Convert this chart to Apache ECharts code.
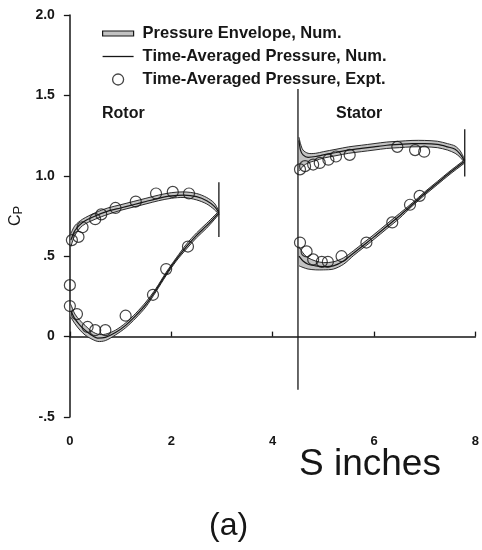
<!DOCTYPE html>
<html>
<head>
<meta charset="utf-8">
<script src="https://cdn.jsdelivr.net/npm/echarts@6/dist/echarts.min.js"></script>
<style>
  html, body { margin: 0; padding: 0; background: #fff; }
  #chart { width: 482px; height: 550px; }
</style>
</head>
<body>
<div id="chart"></div>
<script>
// Axis ticks
const xTicks = [0, 2, 4, 6, 8];
const yTickValues = [-0.5, 0, 0.5, 1.0, 1.5, 2.0];
const yTickText = ['-.5', '0', '.5', '1.0', '1.5', '2.0'];

// Rotor, pressure surface (upper branch): S, time-averaged Cp, envelope max/min
const rotorUpperS    = [0.02, 0.1, 0.25, 0.5, 0.75, 1.0, 1.25, 1.5, 1.75, 2.0, 2.25, 2.5, 2.7, 2.85, 2.94];
const rotorUpperMean = [0.60, 0.66, 0.71, 0.75, 0.78, 0.80, 0.82, 0.84, 0.86, 0.875, 0.88, 0.87, 0.845, 0.81, 0.77];
const rotorUpperHi   = [0.64, 0.69, 0.73, 0.77, 0.80, 0.82, 0.84, 0.86, 0.88, 0.895, 0.90, 0.89, 0.865, 0.83, 0.78];
const rotorUpperLo   = [0.56, 0.63, 0.69, 0.73, 0.76, 0.785, 0.805, 0.825, 0.845, 0.86, 0.865, 0.85, 0.825, 0.79, 0.76];

// Rotor, suction surface (lower branch)
const rotorLowerS    = [0.02, 0.1, 0.2, 0.3, 0.4, 0.55, 0.7, 0.9, 1.1, 1.3, 1.5, 1.7, 1.9, 2.1, 2.3, 2.5, 2.7, 2.94];
const rotorLowerMean = [0.16, 0.11, 0.07, 0.04, 0.015, -0.01, -0.005, 0.025, 0.07, 0.13, 0.20, 0.29, 0.39, 0.48, 0.56, 0.63, 0.69, 0.77];
const rotorLowerHi   = [0.20, 0.14, 0.10, 0.07, 0.04, 0.015, 0.015, 0.04, 0.085, 0.145, 0.215, 0.30, 0.40, 0.49, 0.575, 0.645, 0.705, 0.78];
const rotorLowerLo   = [0.12, 0.08, 0.04, 0.01, -0.01, -0.03, -0.025, 0.01, 0.055, 0.115, 0.185, 0.28, 0.38, 0.47, 0.545, 0.615, 0.675, 0.76];

// Stator, pressure surface (upper branch)
const statorUpperS    = [4.52, 4.55, 4.6, 4.7, 4.85, 5.0, 5.25, 5.5, 5.75, 6.0, 6.25, 6.5, 6.75, 7.0, 7.25, 7.45, 7.6, 7.7, 7.79];
const statorUpperMean = [1.22, 1.16, 1.13, 1.115, 1.12, 1.13, 1.145, 1.16, 1.17, 1.18, 1.19, 1.195, 1.20, 1.20, 1.195, 1.18, 1.165, 1.135, 1.09];
const statorUpperHi   = [1.24, 1.20, 1.16, 1.14, 1.14, 1.15, 1.165, 1.18, 1.19, 1.20, 1.21, 1.215, 1.22, 1.22, 1.215, 1.20, 1.185, 1.155, 1.10];
const statorUpperLo   = [1.03, 1.04, 1.06, 1.08, 1.095, 1.11, 1.125, 1.14, 1.15, 1.16, 1.17, 1.175, 1.18, 1.18, 1.175, 1.16, 1.14, 1.115, 1.08];

// Stator, suction surface (lower branch)
const statorLowerS    = [4.52, 4.6, 4.7, 4.85, 5.0, 5.2, 5.4, 5.6, 5.8, 6.0, 6.25, 6.5, 6.75, 7.0, 7.25, 7.5, 7.79];
const statorLowerMean = [0.50, 0.47, 0.45, 0.44, 0.435, 0.44, 0.47, 0.52, 0.57, 0.62, 0.685, 0.75, 0.82, 0.89, 0.955, 1.02, 1.09];
const statorLowerHi   = [0.56, 0.52, 0.49, 0.47, 0.46, 0.465, 0.49, 0.535, 0.585, 0.635, 0.70, 0.765, 0.83, 0.90, 0.965, 1.03, 1.10];
const statorLowerLo   = [0.44, 0.43, 0.42, 0.415, 0.415, 0.42, 0.45, 0.505, 0.555, 0.605, 0.67, 0.735, 0.81, 0.88, 0.945, 1.01, 1.08];

// Measured time-averaged Cp
const rotorExptS  = [0.04, 0.17, 0.25, 0.5, 0.62, 0.9, 1.3, 1.7, 2.03, 2.35,
                     0.0, 0.0, 0.14, 0.35, 0.5, 0.7, 1.1, 1.64, 1.9, 2.33];
const rotorExptCp = [0.60, 0.62, 0.68, 0.73, 0.76, 0.80, 0.84, 0.89, 0.90, 0.89,
                     0.32, 0.19, 0.14, 0.06, 0.04, 0.04, 0.13, 0.26, 0.42, 0.56];
const statorExptS  = [4.54, 4.64, 4.8, 4.93, 5.1, 5.25, 5.52, 6.46, 6.81, 6.99,
                      4.54, 4.67, 4.8, 4.97, 5.09, 5.36, 5.85, 6.36, 6.71, 6.9];
const statorExptCp = [1.04, 1.06, 1.07, 1.08, 1.10, 1.12, 1.13, 1.18, 1.16, 1.15,
                      0.585, 0.53, 0.48, 0.465, 0.465, 0.50, 0.585, 0.71, 0.82, 0.875];

// Leading / trailing edge marker lines: [S, Cp from, Cp to]
const edgeS    = [4.5, 2.94, 7.79];
const edgeFrom = [-0.33, 0.62, 0.995];
const edgeTo   = [1.54, 0.96, 1.29];

const INK = '#161616';
const BAND = '#c2c2c2';
const FONT = 'Liberation Sans, Arial, sans-serif';

const surfaces = [
  { s: rotorUpperS,  mean: rotorUpperMean,  hi: rotorUpperHi,  lo: rotorUpperLo },
  { s: rotorLowerS,  mean: rotorLowerMean,  hi: rotorLowerHi,  lo: rotorLowerLo },
  { s: statorUpperS, mean: statorUpperMean, hi: statorUpperHi, lo: statorUpperLo },
  { s: statorLowerS, mean: statorLowerMean, hi: statorLowerHi, lo: statorLowerLo }
];

const zip = (a, b) => a.map((v, i) => [v, b[i]]);

// Envelope band between max and min curves, drawn through the axis scales
function renderEnvelope(params, api) {
  const surf = surfaces[params.dataIndex];
  const up = surf.s.map((s, i) => api.coord([s, surf.hi[i]]));
  const dn = surf.s.map((s, i) => api.coord([s, surf.lo[i]]));
  return {
    type: 'group',
    children: [
      { type: 'polygon', shape: { points: up.concat(dn.slice().reverse()), smooth: 0.25 },
        style: { fill: BAND, stroke: null } },
      { type: 'polyline', shape: { points: up, smooth: 0.3 },
        style: { fill: null, stroke: INK, lineWidth: 0.9 } },
      { type: 'polyline', shape: { points: dn, smooth: 0.3 },
        style: { fill: null, stroke: INK, lineWidth: 0.9 } }
    ]
  };
}

const series = [];

series.push({
  name: 'Pressure Envelope, Num.',
  type: 'custom',
  renderItem: renderEnvelope,
  data: surfaces.map(sf => [sf.s[0], sf.lo[0]]),
  itemStyle: { color: BAND, borderColor: INK },
  z: 2,
  silent: true
});

surfaces.forEach(sf => {
  series.push({
    name: 'Time-Averaged Pressure, Num.',
    type: 'line',
    data: zip(sf.s, sf.mean),
    smooth: 0.3,
    symbol: 'none',
    lineStyle: { color: INK, width: 1.2 },
    itemStyle: { color: INK },
    z: 3
  });
});

edgeS.forEach((s, i) => {
  series.push({
    name: 'Blade edges',
    type: 'line',
    data: [[s, edgeFrom[i]], [s, edgeTo[i]]],
    symbol: 'none',
    lineStyle: { color: INK, width: 1.3 },
    z: 3
  });
});

series.push({
  name: 'Time-Averaged Pressure, Expt.',
  type: 'scatter',
  data: zip(rotorExptS, rotorExptCp).concat(zip(statorExptS, statorExptCp)),
  symbol: 'circle',
  symbolSize: 11,
  itemStyle: { color: 'rgba(255,255,255,0)', borderColor: INK, borderWidth: 1.2 },
  z: 4
});

const chart = echarts.init(document.getElementById('chart'), null, { renderer: 'canvas' });

chart.setOption({
  animation: false,
  backgroundColor: '#ffffff',
  grid: { left: 68, right: 5, top: 15, bottom: 133 },
  xAxis: {
    type: 'value',
    min: xTicks[0],
    max: xTicks[xTicks.length - 1],
    interval: 2,
    splitLine: { show: false },
    axisLine: { lineStyle: { color: INK, width: 1.5 } },
    axisTick: { inside: true, length: 5, lineStyle: { color: INK, width: 1.3 } },
    axisLabel: { margin: 18, color: INK, fontFamily: FONT, fontWeight: 'bold', fontSize: 13 }
  },
  yAxis: {
    type: 'value',
    min: yTickValues[0],
    max: yTickValues[yTickValues.length - 1],
    interval: 0.5,
    splitLine: { show: false },
    axisLine: { show: true, lineStyle: { color: INK, width: 1.5 } },
    axisTick: { show: true, inside: false, length: 6, lineStyle: { color: INK, width: 1.3 } },
    axisLabel: {
      margin: 15, color: INK, fontFamily: FONT, fontWeight: 'bold', fontSize: 14,
      formatter: v => {
        const i = yTickValues.findIndex(t => Math.abs(t - v) < 1e-9);
        return i >= 0 ? yTickText[i] : '';
      }
    },
    name: '{c|C}{p|P}',
    nameLocation: 'middle',
    nameRotate: 90,
    nameGap: 44,
    nameTextStyle: {
      rich: {
        c: { fontFamily: FONT, fontSize: 16, color: INK },
        p: { fontFamily: FONT, fontSize: 13, color: INK, padding: [4, 0, 0, 0] }
      }
    }
  },
  legend: {
    orient: 'vertical',
    left: 102,
    top: 25,
    padding: 0,
    itemWidth: 31,
    itemHeight: 11,
    itemGap: 6,
    selectedMode: false,
    textStyle: { fontFamily: FONT, fontWeight: 'bold', fontSize: 16.5, color: INK, padding: [0, 0, 0, 4] },
    data: [
      { name: 'Pressure Envelope, Num.', icon: 'path://M0,0H31V5H0Z',
        itemStyle: { color: BAND, borderColor: INK, borderWidth: 1.2 } },
      { name: 'Time-Averaged Pressure, Num.', icon: 'path://M0,0H31V1.3H0Z',
        itemStyle: { color: INK } },
      { name: 'Time-Averaged Pressure, Expt.', icon: 'circle',
        itemStyle: { color: 'rgba(255,255,255,0)', borderColor: INK, borderWidth: 1.3 } }
    ]
  },
  graphic: [
    { type: 'text', left: 102, top: 106,
      style: { text: 'Rotor', fontFamily: FONT, fontWeight: 'bold', fontSize: 16, fill: INK } },
    { type: 'text', left: 336, top: 106,
      style: { text: 'Stator', fontFamily: FONT, fontWeight: 'bold', fontSize: 16, fill: INK } },
    { type: 'text', left: 299, top: 446,
      style: { text: 'S inches', fontFamily: FONT, fontSize: 37, fill: INK } },
    { type: 'text', left: 209, top: 510,
      style: { text: '(a)', fontFamily: FONT, fontSize: 32, fill: INK } }
  ],
  series: series
});
</script>
</body>
</html>
